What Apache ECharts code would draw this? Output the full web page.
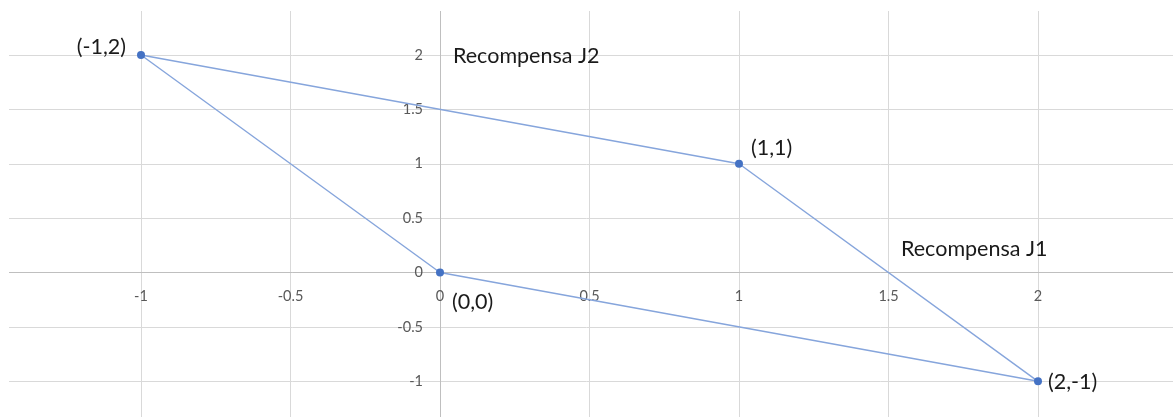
<!DOCTYPE html>
<html>
<head>
<meta charset="utf-8">
<script src="https://cdn.jsdelivr.net/npm/echarts@6/dist/echarts.min.js"></script>
<style>
html,body{margin:0;padding:0;background:#fff;}
#c{width:1173px;height:417px;}
</style>
</head>
<body>
<div id="c"></div>
<script>
// Data
const pointsX = [-1, 1, 2, 0];
const pointsY = [2, 1, -1, 0];
const pointLabels = ['(-1,2)', '(1,1)', '(2,-1)', '(0,0)'];
const xAxisTitle = 'Recompensa J1';
const yAxisTitle = 'Recompensa J2';
const axisMin = -1.5, axisMax = 2.5, axisStep = 0.5;

// Label placement styles (per point index)
const labelPlacement = [
  {position: 'left', distance: 11, offset: [0, -8]},
  {position: 'right', distance: 8, offset: [0, -16]},
  {position: 'right', distance: 6, offset: [0, 1]},
  {position: 'right', distance: 8, offset: [0, 30]}
];

const FONT = 'Lato, "Open Sans", sans-serif';
const W = 1173, H = 417;
const G = {left: -8.5, right: -14.5, top: 0.6, bottom: -18.7};
// pixel of value 0 inside grid -> offsets to place axes through the origin
const gw = W - G.left - G.right, gh = H - G.top - G.bottom;
const x0 = G.left + (0 - axisMin) / (axisMax - axisMin) * gw;
const y0 = G.top + (axisMax - 0) / (axisMax - axisMin) * gh;
const xAxisOffset = -((H - G.bottom) - y0);
const yAxisOffset = -(x0 - G.left);

const seriesData = pointsX.map((x, i) => ({
  value: [x, pointsY[i]],
  label: Object.assign({show: true, formatter: pointLabels[i]}, labelPlacement[i])
}));
// close the polygon back to the first point
seriesData.push({value: [pointsX[0], pointsY[0]], symbol: 'none', label: {show: false}});

const chart = echarts.init(document.getElementById('c'), null, {renderer: 'canvas'});
chart.setOption({
  animation: false,
  backgroundColor: '#fff',
  grid: Object.assign({containLabel: false, outerBoundsMode: 'none'}, G),
  xAxis: {
    type: 'value', min: axisMin, max: axisMax, interval: axisStep,
    position: 'bottom', offset: xAxisOffset,
    axisLine: {onZero: false, lineStyle: {color: '#bfbfbf', width: 1}},
    axisTick: {show: false},
    axisLabel: {color: '#595959', fontFamily: FONT, fontSize: 14.5, margin: 16,
                showMinLabel: false, showMaxLabel: false},
    splitLine: {show: true, lineStyle: {color: '#d9d9d9', width: 1}}
  },
  yAxis: {
    type: 'value', min: axisMin, max: axisMax, interval: axisStep,
    position: 'left', offset: yAxisOffset,
    axisLine: {onZero: false, lineStyle: {color: '#bfbfbf', width: 1}},
    axisTick: {show: false},
    axisLabel: {color: '#595959', fontFamily: FONT, fontSize: 14.5, margin: 17,
                showMinLabel: false, showMaxLabel: false},
    splitLine: {show: true, lineStyle: {color: '#d9d9d9', width: 1}}
  },
  series: [{
    type: 'line',
    data: seriesData,
    symbol: 'circle',
    symbolSize: 8,
    showAllSymbol: true,
    itemStyle: {color: '#4472c4'},
    lineStyle: {color: '#86a5dc', width: 1.4},
    label: {color: '#1a1a1a', fontFamily: FONT, fontSize: 21.5},
    z: 5
  }],
  graphic: [
    {type: 'rect', left: 0, top: 0, shape: {width: 9, height: H}, style: {fill: '#fff'}, z: 100, silent: true},
    {type: 'rect', left: 0, top: 0, shape: {width: W, height: 11}, style: {fill: '#fff'}, z: 100, silent: true},
    {type: 'text', x: 453, y: 56, z: 101,
     style: {text: yAxisTitle, fill: '#1a1a1a', font: '21.5px ' + FONT, textVerticalAlign: 'middle', verticalAlign: 'middle'}},
    {type: 'text', x: 901, y: 249, z: 101,
     style: {text: xAxisTitle, fill: '#1a1a1a', font: '21.5px ' + FONT, textVerticalAlign: 'middle', verticalAlign: 'middle'}}
  ]
});
</script>
</body>
</html>
